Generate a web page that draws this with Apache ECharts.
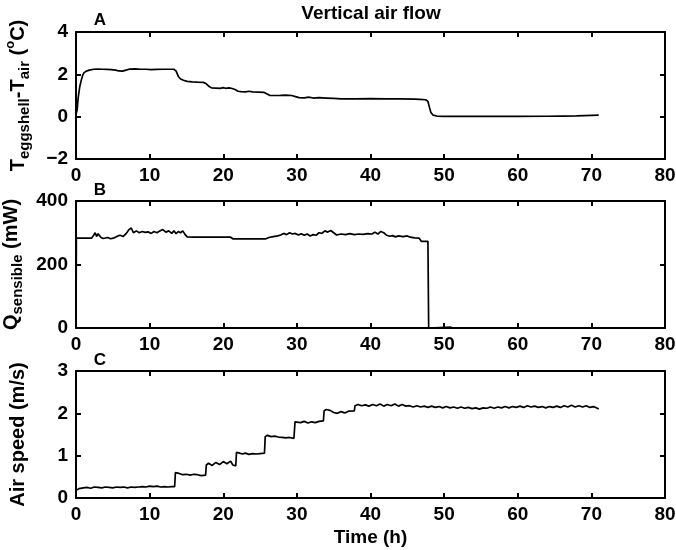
<!DOCTYPE html>
<html>
<head>
<meta charset="utf-8">
<script src="https://cdn.jsdelivr.net/npm/echarts@6/dist/echarts.min.js"></script>
<style>html,body{margin:0;padding:0;background:#fff}#c{width:676px;height:550px}</style>
</head>
<body>
<div id="c"></div>
<script>
// Panel A: eggshell - air temperature difference (°C)
const timeA = [0,0.15,0.3,0.5,0.7,0.9,1.1,1.4,1.8,2.4,3.0,3.6,4.2,4.8,5.4,5.8,6.3,6.8,7.3,8.0,8.8,9.5,10.2,11.0,11.8,12.6,13.3,13.6,13.9,14.2,14.6,15.1,15.8,16.5,17.3,17.7,18.1,18.4,19.0,19.6,20.0,20.3,20.8,21.2,21.6,22.0,22.4,23.0,23.5,24.0,24.8,25.5,25.9,26.3,27.0,27.8,28.5,29.3,29.8,30.3,31.0,31.6,32.2,33.0,34.0,35.0,36.0,38.0,40.0,42.0,44.0,46.0,46.7,47.5,47.8,48.0,48.2,48.5,49.0,50.0,55.0,58.0,60.0,64.0,66.0,68.0,70.0,71.0];
const tempDiff = [0.12,0.3,0.9,1.4,1.7,1.95,2.08,2.15,2.2,2.24,2.25,2.24,2.23,2.22,2.2,2.16,2.15,2.2,2.25,2.26,2.24,2.24,2.22,2.23,2.24,2.24,2.24,2.15,1.9,1.78,1.72,1.67,1.64,1.63,1.62,1.55,1.42,1.36,1.35,1.34,1.37,1.34,1.36,1.33,1.28,1.2,1.18,1.17,1.2,1.17,1.16,1.15,1.08,1.01,1.0,1.01,1.02,1.0,0.95,0.9,0.89,0.92,0.88,0.9,0.88,0.86,0.84,0.84,0.85,0.84,0.84,0.83,0.82,0.8,0.72,0.45,0.2,0.07,0.03,0.01,0.01,0.02,0.01,0.02,0.03,0.04,0.06,0.07];

// Panel B: sensible heat (mW)
const timeB = [0,0.05,2.1,2.4,2.6,2.8,3.0,3.2,3.4,3.7,4.3,4.7,5.2,5.7,6.0,6.4,6.8,7.2,7.5,7.8,8.2,8.6,9.0,9.4,9.8,10.2,10.6,11.0,11.4,11.8,12.2,12.6,13.0,13.3,13.6,13.9,14.2,14.5,14.8,15.1,16.0,21.0,21.3,25.8,26.2,26.8,27.4,27.8,28.2,28.6,29.0,29.4,29.8,30.2,30.6,31.0,31.4,31.8,32.2,32.6,33.0,33.4,33.8,34.2,34.6,35.0,35.4,36.0,36.6,37.2,37.8,38.4,39.0,39.6,40.2,40.6,41.0,41.4,41.8,42.2,42.6,43.0,43.4,43.8,44.4,45.0,45.4,46.0,46.6,46.9,47.8,47.9,48.0,51.0];
const qSensible = [0,283,283,292,300,288,297,302,285,282,285,281,284,290,292,288,297,310,315,300,306,300,304,301,303,298,304,300,306,310,302,306,298,306,297,304,300,306,295,287,286,286,281,281,285,288,290,293,298,294,300,296,298,293,297,292,296,290,294,292,300,298,306,302,307,300,293,296,294,297,294,296,295,297,296,302,296,304,300,292,289,291,287,290,288,290,286,284,283,273,273,0,4,3];

// Panel C: air speed (m/s)
const timeC = [0,0.4,1,1.5,2,2.5,3,3.5,4,4.5,5,5.5,6,6.5,7,7.5,8,8.5,9,9.5,10,10.5,11,11.5,12,12.5,13,13.4,13.5,14,14.5,15,15.5,16,16.5,17,17.6,17.7,18,18.5,19,19.5,20,20.5,21,21.3,21.7,21.8,22.2,22.6,23,23.5,24,24.5,25,25.6,25.7,26,26.5,27,27.5,28,28.5,29,29.6,29.75,30,30.5,31,31.5,32,32.5,33,33.6,33.7,34,34.5,35,35.5,36,36.5,37,37.8,37.9,38.3,38.8,39.3,39.8,40.3,40.8,41.3,41.8,42.3,42.8,43.3,43.8,44.3,44.8,45.3,45.8,46.3,46.8,47.3,47.8,48.3,48.8,49.3,49.8,50.3,50.8,51.3,51.8,52.3,52.8,53.3,53.8,54.3,54.8,55.3,55.8,56.3,56.8,57.3,57.8,58.3,58.8,59.3,59.8,60.3,60.8,61.3,61.8,62.3,62.8,63.3,63.8,64.3,64.8,65.3,65.8,66.3,66.8,67.3,67.8,68.3,68.8,69.3,69.8,70.3,70.8,71.0];
const airSpeed = [0.18,0.22,0.24,0.25,0.23,0.26,0.25,0.24,0.26,0.25,0.24,0.26,0.25,0.26,0.24,0.26,0.25,0.26,0.27,0.26,0.28,0.27,0.28,0.26,0.27,0.26,0.27,0.27,0.6,0.58,0.55,0.56,0.54,0.56,0.55,0.53,0.54,0.78,0.82,0.77,0.84,0.79,0.86,0.81,0.87,0.78,0.76,1.08,1.06,1.04,1.06,1.03,1.05,1.04,1.05,1.06,1.45,1.48,1.45,1.46,1.44,1.43,1.42,1.43,1.41,1.8,1.83,1.78,1.81,1.77,1.8,1.78,1.81,1.82,2.06,2.09,2.07,2.02,2.0,2.04,2.01,2.05,2.06,2.18,2.21,2.18,2.2,2.17,2.21,2.18,2.22,2.17,2.21,2.18,2.22,2.17,2.21,2.17,2.18,2.15,2.18,2.15,2.17,2.14,2.17,2.14,2.16,2.13,2.16,2.13,2.15,2.12,2.15,2.12,2.14,2.11,2.13,2.1,2.13,2.12,2.15,2.12,2.15,2.13,2.16,2.13,2.16,2.14,2.17,2.14,2.18,2.15,2.17,2.14,2.16,2.13,2.16,2.14,2.17,2.14,2.18,2.15,2.19,2.15,2.18,2.15,2.18,2.14,2.16,2.12,2.1];

const xTicks = {min:0, max:80, interval:10};
const yRanges = [{min:-2,max:4,interval:2},{min:0,max:400,interval:200},{min:0,max:3,interval:1}];

const FONT = '"Liberation Sans", Arial, Helvetica, sans-serif';
const grids = [
  {left:76, right:11, top:32, height:127, outerBoundsMode:'none', containLabel:false},
  {left:76, right:11, top:201, height:127, outerBoundsMode:'none', containLabel:false},
  {left:76, right:11, top:371, height:127, outerBoundsMode:'none', containLabel:false}
];
const lineStyle = {color:'#000', width:2};
const tickStyle = {inside:true, length:5, lineStyle:{color:'#000', width:2}};
const labelStyle = {color:'#000', fontSize:19, fontWeight:'bold', fontFamily:FONT};

const xAxis = [], yAxis = [];
const nameRich = {
  m:{fontSize:20, fontWeight:'bold', fontFamily:FONT, color:'#000', lineHeight:28, verticalAlign:'middle'},
  s:{fontSize:15, fontWeight:'bold', fontFamily:FONT, color:'#000', lineHeight:15, verticalAlign:'bottom'},
  u:{fontSize:13, fontWeight:'bold', fontFamily:FONT, color:'#000', lineHeight:13, verticalAlign:'top'}
};
const yNames = [
  '{m|T}{s|eggshell}{m|-T}{s|air}{m| (}{u|o}{m|C)}',
  '{m|Q}{s|sensible}{m| (mW)}',
  '{m|Air speed (m/s)}'
];
for (let i=0;i<3;i++){
  xAxis.push({type:'value', gridIndex:i, ...xTicks, position:'bottom',
    axisLine:{show:true, onZero:false, lineStyle}, axisTick:tickStyle,
    axisLabel:{...labelStyle, margin:7}, splitLine:{show:false},
    name: i===2 ? 'Time (h)' : '', nameLocation:'middle', nameGap:30,
    nameTextStyle:{color:'#000', fontSize:19, fontWeight:'bold', fontFamily:FONT}});
  xAxis.push({type:'value', gridIndex:i, ...xTicks, position:'top',
    axisLine:{show:true, onZero:false, lineStyle}, axisTick:tickStyle,
    axisLabel:{show:false}, splitLine:{show:false}});
  yAxis.push({type:'value', gridIndex:i, ...yRanges[i], position:'left',
    axisLine:{show:true, onZero:false, lineStyle}, axisTick:tickStyle,
    axisLabel:{...labelStyle, margin:8, formatter:v=>String(v).replace('-','\u2212')},
    splitLine:{show:false},
    name:yNames[i], nameLocation:'middle', nameRotate:90, nameGap:44,
    nameTextStyle:{rich:nameRich}});
  yAxis.push({type:'value', gridIndex:i, ...yRanges[i], position:'right',
    axisLine:{show:true, onZero:false, lineStyle}, axisTick:tickStyle,
    axisLabel:{show:false}, splitLine:{show:false}});
}

const zip = (a,b)=>a.map((v,k)=>[v,b[k]]);
const mk = (i,data)=>({type:'line', xAxisIndex:2*i, yAxisIndex:2*i, data, showSymbol:false,
  symbol:'none', lineStyle:{color:'#000', width:1.7}, animation:false, z:5});

const chart = echarts.init(document.getElementById('c'), null, {renderer:'canvas'});
chart.setOption({
  backgroundColor:'#fff',
  animation:false,
  grid:grids,
  xAxis, yAxis,
  series:[mk(0,zip(timeA,tempDiff)), mk(1,zip(timeB,qSensible)), mk(2,zip(timeC,airSpeed))],
  graphic:[
    {type:'text', x:371, y:14, style:{text:'Vertical air flow', font:'bold 19px '+FONT, fill:'#000', textAlign:'center', textVerticalAlign:'middle'}},
    {type:'text', x:100, y:20, style:{text:'A', font:'bold 17px '+FONT, fill:'#000', textAlign:'center', textVerticalAlign:'middle'}},
    {type:'text', x:100, y:190, style:{text:'B', font:'bold 17px '+FONT, fill:'#000', textAlign:'center', textVerticalAlign:'middle'}},
    {type:'text', x:100, y:360, style:{text:'C', font:'bold 17px '+FONT, fill:'#000', textAlign:'center', textVerticalAlign:'middle'}}
  ]
});
</script>
</body>
</html>
